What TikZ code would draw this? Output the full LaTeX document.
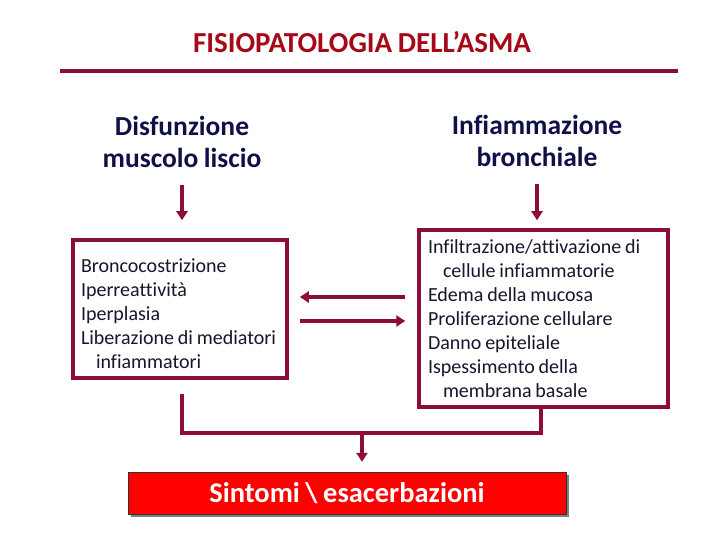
\documentclass[tikz,border=0pt]{standalone}
\usepackage{fontspec}
\setmainfont{Carlito}[Ligatures=NoCommon, WordSpace=0.85]
\usetikzlibrary{arrows.meta,positioning,shadows}
\definecolor{maroon}{RGB}{140,12,58}
\definecolor{titlered}{RGB}{165,8,22}
\definecolor{inkblue}{RGB}{16,16,72}
\definecolor{textink}{RGB}{22,22,44}

\begin{document}
\begin{tikzpicture}[
  x=1pt, y=-1pt, >={Triangle[length=9pt,width=11pt]},
  heading/.style={font=\fontsize{27.5}{32}\selectfont\bfseries, text=inkblue, align=center},
  listbox/.style={draw=maroon, line width=3.5pt, fill=white, align=flush left, text=textink, font=\fontsize{20}{24}\selectfont, inner xsep=8pt},
  arrow/.style={->, line width=3.5pt, maroon},
  link/.style={line width=3.5pt, maroon}
]
\useasboundingbox (0,0) rectangle (720,540);

% title and rule
\node[font=\fontsize{29}{32}\selectfont\bfseries, text=titlered] (title) at (362,42) {FISIOPATOLOGIA DELL’ASMA};
\draw[line width=4pt, maroon] (60,71) -- (678,71);

% headings
\node[heading] (dis) at (182,142) {Disfunzione\\muscolo liscio};
\node[heading] (inf) at (537,141) {Infiammazione\\bronchiale};

% boxes
\node[listbox, minimum width=214pt, minimum height=138pt, text width=198pt] (lbox) at (180,309)
  {\rule{0pt}{23pt}Broncocostrizione\\Iperreattività\\Iperplasia\\Liberazione di mediatori\\\hspace*{15pt}infiammatori};
\node[listbox, minimum width=249pt, minimum height=177pt, text width=231pt, inner xsep=9pt] (rbox) at (543.5,318.5)
  {Infiltrazione/attivazione di\\\hspace*{15pt}cellule infiammatorie\\Edema della mucosa\\Proliferazione cellulare\\Danno epiteliale\\Ispessimento della\\\hspace*{15pt}membrana basale};

\node[draw=black!80, fill=red, text=white, minimum width=438pt, minimum height=42pt,
  font=\fontsize{28.5}{30}\selectfont\bfseries, drop shadow={shadow xshift=3pt, shadow yshift=-3pt, fill=black}] (sint) at (347,493)
  {Sintomi \textbackslash{} esacerbazioni};

\coordinate (join) at (362,433);

% connectors
\draw[arrow, shorten <=14pt, shorten >=18pt] (dis.south) -- (dis.south |- lbox.north);
\draw[arrow, shorten <=14pt, shorten >=8pt] (inf.south) -- (inf.south |- rbox.north);
\draw[arrow, shorten <=12pt, shorten >=11pt] ([yshift=21.5pt]rbox.west) -- ([yshift=12pt]lbox.east);
\draw[arrow, shorten <=11pt, shorten >=12pt] ([yshift=-12pt]lbox.east) -- ([yshift=-2.5pt]rbox.west);
\draw[link, shorten <=14pt] ([xshift=2pt]lbox.south) |- (join) -| ([xshift=-2.5pt]rbox.south);
\draw[arrow, shorten >=10pt] (join) -- (join |- sint.north);

\end{tikzpicture}
\end{document}
